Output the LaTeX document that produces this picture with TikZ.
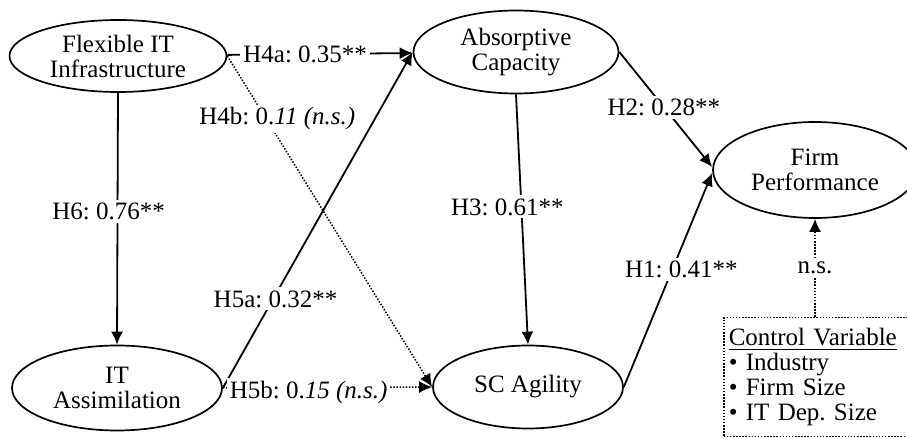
\documentclass[tikz,border=0pt]{standalone}
\usepackage{fontspec}
\setmainfont{Liberation Serif}
\usetikzlibrary{shapes.geometric,arrows.meta}
\frenchspacing
\begin{document}
\begin{tikzpicture}[x=0.5pt,y=-0.5pt,
  latent/.style={ellipse,draw,line width=0.85pt,inner sep=0pt,align=center,font=\fontsize{12.5}{12.5}\selectfont},
  sigpath/.style={line width=0.9pt,-{Latex[length=6.5pt,width=6pt]}},
  nspath/.style={line width=0.75pt,dash pattern=on 0.75pt off 0.8pt,-{Latex[length=6.5pt,width=6pt]}},
  lab/.style={fill=white,inner sep=1.5pt,font=\fontsize{12.5}{12.5}\selectfont}]
\useasboundingbox (0,0) rectangle (907,438);
\node[latent,minimum width=108.5pt,minimum height=36pt] (flex) at (118,56) {Flexible IT\\Infrastructure};
\node[latent,minimum width=105pt,minimum height=42.5pt] (ita) at (117,388) {IT\\Assimilation};
\node[latent,minimum width=102.5pt,minimum height=41.5pt] (abs) at (516,52) {Absorptive\\Capacity};
\node[latent,minimum width=95pt,minimum height=41.5pt] (sca) at (528,387) {SC Agility};
\node[latent,minimum width=102pt,minimum height=48pt] (firm) at (815,170) {Firm\\Performance};
\node[draw,line width=0.75pt,dash pattern=on 0.75pt off 0.8pt,anchor=north west,
      text width=88pt,inner xsep=2.5pt,minimum height=59.5pt,align=left,
      font=\fontsize{12.5}{12.5}\selectfont] (ctrl) at (723,317)
  {\underline{Control Variable}\\• Industry\\• Firm Size\\• IT Dep. Size};

\draw[sigpath] (flex.south) -- node[lab,pos=0.47,xshift=-4.5pt] {H6: 0.76**} (ita.north);
\draw[sigpath] (flex) -- node[lab,pos=0.42] {H4a: 0.35**} (abs);
\draw[nspath] (flex.east) -- node[lab,pos=0.19,xshift=5.5pt] {H4b: 0.\textit{11 (n.s.)}} (sca.west);
\draw[sigpath] (ita.east) -- node[lab,pos=0.265,xshift=1.2pt] {H5a: 0.32**} (abs.west);
\draw[nspath] (ita.east) -- node[lab,pos=0.41,yshift=-2.5pt] {H5b: 0.\textit{15 (n.s.)}} (sca.west);
\draw[sigpath] (abs.south) -- node[lab,pos=0.45,xshift=-7pt] {H3: 0.61**} (sca.north);
\draw[sigpath] (abs.east) -- node[lab,pos=0.48] {H2: 0.28**} ([yshift=1.5pt]firm.west);
\draw[sigpath] (sca.east) -- node[lab,pos=0.55,xshift=4.5pt] {H1: 0.41**} ([yshift=-1.5pt]firm.west);
\draw[nspath] (firm.south |- ctrl.north) -- node[lab,pos=0.5] {n.s.} (firm.south);
\end{tikzpicture}
\end{document}
